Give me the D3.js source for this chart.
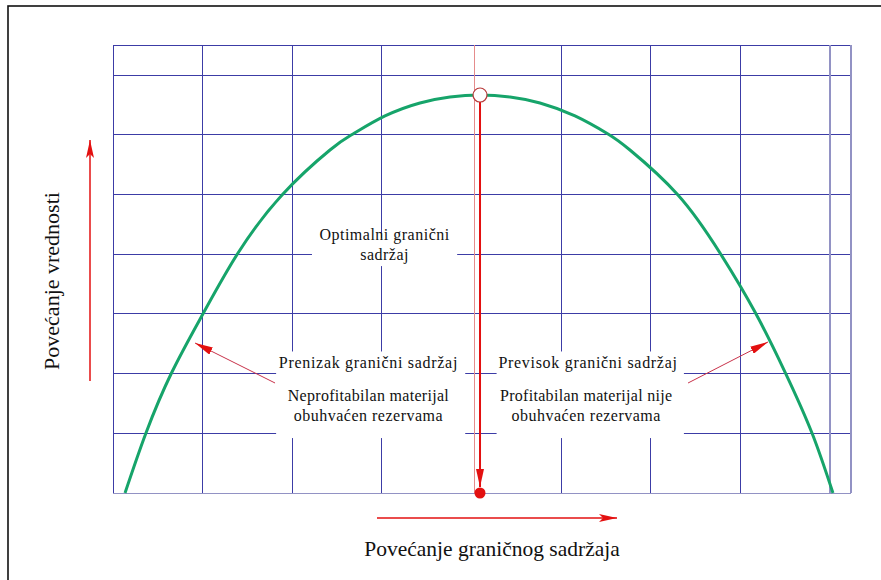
<!DOCTYPE html>
<html>
<head>
<meta charset="utf-8">
<script src="https://cdn.jsdelivr.net/npm/d3@7"></script>
<style>
  html, body { margin: 0; padding: 0; background: #ffffff; }
  svg { display: block; }
  text { font-family: "Liberation Serif", "Times New Roman", serif; fill: #111; }
</style>
</head>
<body>
<svg id="chart" width="881" height="580"></svg>
<script>
// ---- data (chart units: x = cut-off grade steps, y = value steps) ----
const xTicks = [0, 1, 2, 3, 4, 5, 6, 7, 8];
const yTicks = [0, 1, 2, 3, 4, 5, 6, 7];
const xMax = 8.234;
const yMax = 7.5;
const curveX = [0.134, 0.368, 0.658, 1.015, 1.395, 1.886, 2.421, 2.678, 3.035, 3.425, 3.760, 4.095, 4.430, 4.764, 5.155, 5.523, 5.768, 6.304, 6.773, 7.163, 7.498, 7.799, 8.033];
const curveY = [0.000, 1.005, 2.026, 3.031, 4.019, 4.991, 5.744, 6.012, 6.314, 6.532, 6.632, 6.665, 6.632, 6.532, 6.314, 6.012, 5.744, 4.991, 4.019, 3.031, 2.026, 1.005, 0.000];
const optimumX = 4.095;
const optimumY = 6.665;
const pinkLineX = 4.03;
const xLabel = "Povećanje graničnog sadržaja";
const yLabel = "Povećanje vrednosti";
const optimalLines = ["Optimalni  granični", "sadržaj"];
const lowTitle = "Prenizak granični sadržaj";
const lowLines = ["Neprofitabilan materijal", "obuhvaćen rezervama"];
const highTitle = "Previsok granični sadržaj";
const highLines = ["Profitabilan materijal nije", "obuhvaćen rezervama"];

// ---- layout ----
const svg = d3.select("#chart");
const x = d3.scaleLinear().domain([0, 8]).range([113, 830]);
const y = d3.scaleLinear().domain([0, 7]).range([493, 75]);

const gridDark = "#3c3ca6";
const gridLight = "#9292c4";
const red = "#e31010";

// outer frame
svg.append("rect").attr("x", 8).attr("y", 6).attr("width", 890).attr("height", 600)
  .attr("fill", "none").attr("stroke", "#111").attr("stroke-width", 1.6);

const grid = svg.append("g").attr("shape-rendering", "crispEdges");
yTicks.forEach(t => {
  grid.append("line").attr("x1", x(0)).attr("x2", x(xMax)).attr("y1", y(t)).attr("y2", y(t))
    .attr("stroke", t === 0 ? gridLight : gridDark).attr("stroke-width", 1);
});
grid.append("line").attr("x1", x(0)).attr("x2", x(xMax)).attr("y1", y(yMax)).attr("y2", y(yMax))
  .attr("stroke", gridDark).attr("stroke-width", 1);
xTicks.forEach(t => {
  if (t === 4) return;
  grid.append("line").attr("x1", x(t)).attr("x2", x(t)).attr("y1", y(0)).attr("y2", y(yMax))
    .attr("stroke", t === 8 ? gridLight : gridDark).attr("stroke-width", t === 8 ? 1.5 : 1);
});
grid.append("line").attr("x1", x(xMax)).attr("x2", x(xMax)).attr("y1", y(0)).attr("y2", y(yMax))
  .attr("stroke", gridLight).attr("stroke-width", 1.2);

// white label boxes (mask grid)
const boxes = [
  [2.22, 3.80, 3.84, 4.27],   // optimal
  [1.82, 0.92, 3.93, 2.37],   // low
  [4.28, 0.92, 6.37, 2.37]    // high
];
boxes.forEach(b => {
  svg.append("rect").attr("x", x(b[0])).attr("y", y(b[3]))
    .attr("width", x(b[2]) - x(b[0])).attr("height", y(b[1]) - y(b[3]))
    .attr("fill", "#fff");
});
// pink centre line (never hidden)
svg.append("line").attr("x1", x(pinkLineX)).attr("x2", x(pinkLineX)).attr("y1", y(0)).attr("y2", y(yMax))
  .attr("stroke", "#e58c8c").attr("stroke-width", 1).attr("shape-rendering", "crispEdges");

// markers
const defs = svg.append("defs");
defs.append("marker").attr("id", "arrowRed").attr("viewBox", "0 0 18 8")
  .attr("refX", 18).attr("refY", 4).attr("markerWidth", 18).attr("markerHeight", 8)
  .attr("markerUnits", "userSpaceOnUse").attr("orient", "auto")
  .append("path").attr("d", "M0,0 L18,4 L0,8 L4,4 Z").attr("fill", red);
defs.append("marker").attr("id", "arrowSmall").attr("viewBox", "0 0 18 8")
  .attr("refX", 18).attr("refY", 4).attr("markerWidth", 18).attr("markerHeight", 8)
  .attr("markerUnits", "userSpaceOnUse").attr("orient", "auto")
  .append("path").attr("d", "M0,0 L18,4 L0,8 Z").attr("fill", red);

// curve
const pts = curveX.map((v, i) => [v, curveY[i]]);
svg.append("path").datum(pts)
  .attr("d", d3.line().x(d => x(d[0])).y(d => y(d[1])).curve(d3.curveNatural))
  .attr("fill", "none").attr("stroke", "#16a46a").attr("stroke-width", 3);

// optimum vertical arrow
svg.append("line").attr("x1", x(optimumX)).attr("x2", x(optimumX))
  .attr("y1", y(optimumY) + 7).attr("y2", y(0) - 6)
  .attr("stroke", red).attr("stroke-width", 2).attr("marker-end", "url(#arrowSmall)");
svg.append("circle").attr("cx", x(optimumX)).attr("cy", y(optimumY)).attr("r", 7)
  .attr("fill", "#fff").attr("stroke", "#b83a3a").attr("stroke-width", 1.2);
svg.append("circle").attr("cx", x(optimumX)).attr("cy", y(0)).attr("r", 5.5).attr("fill", red);

// annotation arrows
const annArrows = [
  [[1.808, 1.842], [0.915, 2.512]],
  [[6.416, 1.842], [7.308, 2.529]]
];
annArrows.forEach(a => {
  svg.append("line").attr("x1", x(a[0][0])).attr("y1", y(a[0][1]))
    .attr("x2", x(a[1][0])).attr("y2", y(a[1][1]))
    .attr("stroke", "#c8324a").attr("stroke-width", 1).attr("marker-end", "url(#arrowSmall)");
});

// labels
function label(txt, cx, cy, size, ls) {
  svg.append("text").attr("x", cx).attr("y", cy).attr("text-anchor", "middle")
    .attr("dominant-baseline", "central").attr("font-size", size)
    .attr("letter-spacing", ls).text(txt);
}
label(optimalLines[0], x(3.03), y(4.33), 16, 0.5);
label(optimalLines[1], x(3.03), y(3.99), 16, 0.5);
label(lowTitle, x(2.85), y(2.19), 16, 0.7);
label(lowLines[0], x(2.85), y(1.64), 16, 0.3);
label(lowLines[1], x(2.85), y(1.30), 16, 0.5);
label(highTitle, x(5.30), y(2.19), 16, 0.7);
label(highLines[0], x(5.28), y(1.64), 16, 0.3);
label(highLines[1], x(5.28), y(1.30), 16, 0.5);

// axis titles and arrows
svg.append("line").attr("x1", 377).attr("x2", 617).attr("y1", 518).attr("y2", 518)
  .attr("stroke", red).attr("stroke-width", 1.5).attr("marker-end", "url(#arrowRed)");
svg.append("text").attr("x", 492).attr("y", 556).attr("text-anchor", "middle")
  .attr("font-size", 21.5).text(xLabel);

svg.append("line").attr("x1", 90).attr("x2", 90).attr("y1", 381).attr("y2", 140)
  .attr("stroke", red).attr("stroke-width", 1.5).attr("marker-end", "url(#arrowRed)");
svg.append("text").attr("transform", "translate(59,281) rotate(-90)")
  .attr("text-anchor", "middle").attr("font-size", 22).text(yLabel);
</script>
</body>
</html>
